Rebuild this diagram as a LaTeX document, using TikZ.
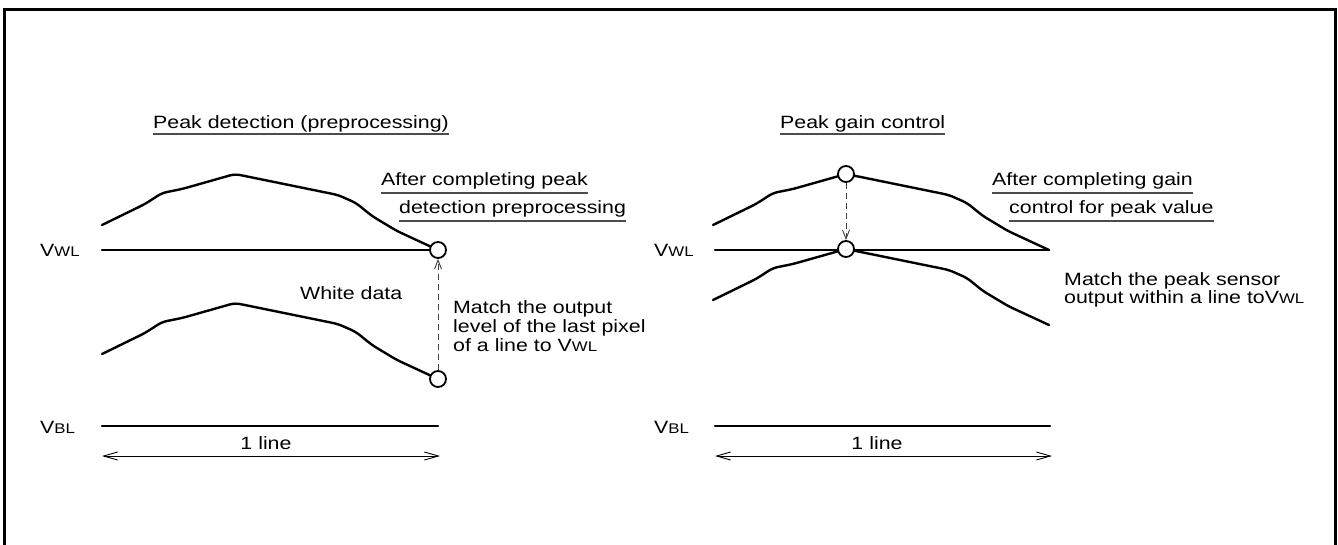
\documentclass[tikz,border=0pt]{standalone}
\usepackage{fontspec}
\setmainfont{Liberation Sans}[FakeStretch=1.2]
\usetikzlibrary{arrows.meta}
\newcommand\wavepath{-- ++(43,-21) -- ++(17,-11) -- ++(20,-4) -- ++(53,-15) -- ++(103,21) -- ++(18,8) -- ++(16,13) -- ++(25,15) -- ++(41,19)}
\newcommand\vsub[1]{V{\fontsize{14}{14}\selectfont #1}}
\begin{document}
\begin{tikzpicture}[x=1pt,y=-1pt,
  every node/.style={font=\fontsize{17.8}{19}\selectfont, inner sep=0pt},
  thick line/.style={line width=2.4pt, line join=round, line cap=round},
  wave/.style={thick line, rounded corners=5pt},
  frame/.style={line width=3pt},
  dot/.style={circle, draw, fill=white, line width=1.8pt, minimum size=16pt},
  dasharrow/.style={line width=0.9pt, dash pattern=on 6pt off 4pt, draw=black!75, -{Straight Barb[length=9pt,width=7pt,line width=0.9pt]}},
  spanarrow/.style={line width=0.9pt, {Straight Barb[length=14pt,width=8pt,line width=0.9pt]}-{Straight Barb[length=14pt,width=8pt,line width=0.9pt]}},
  uline/.style={line width=1.3pt, draw=black!70},
  lbl/.style={anchor=base west}
]
\useasboundingbox (0,0) rectangle (1338,544);
\draw[frame] (4,560) -- (4,9) -- (1335,9) -- (1335,560);

% ---------------- left panel ----------------
\node[lbl] (tl) at (153,128) {Peak detection (preprocessing)};
\draw[uline] ([yshift=-6pt]tl.base west) -- ([yshift=-6pt]tl.base east);

\node[lbl] (al1) at (381,185) {After completing peak};
\draw[uline] ([yshift=-8pt]al1.base west) -- ([yshift=-8pt]al1.base east);
\node[lbl] (al2) at (399,213) {detection preprocessing};
\draw[uline] ([yshift=-8pt]al2.base west) -- ([yshift=-8pt]al2.base east);

\node[lbl] (vwl1) at (40,256) {\vsub{WL}};
\draw[wave] (102,225) \wavepath;
\node[dot] (c1) at (438,250) {};
\draw[thick line] (102,250) -- (c1);

\node[lbl] (wd) at (300,299) {White data};
\draw[wave] (102,354) \wavepath;
\node[dot] (c2) at (438,379) {};
\draw[dasharrow] (c2) -- (c1);

\node[lbl] (m1) at (453,313) {Match the output};
\node[lbl] (m2) at (453,332) {level of the last pixel};
\node[lbl] (m3) at (453,351) {of a line to \vsub{WL}};

\node[lbl] (vbl1) at (40,433) {\vsub{BL}};
\coordinate (b1s) at (102,426);
\coordinate (b1e) at (438,426);
\draw[thick line] (b1s) -- (b1e);
\node (ll1) at (266,443) {1 line};
\coordinate (s1s) at (102,456);
\coordinate (s1e) at (440,456);
\draw[spanarrow] (s1s) -- (s1e);

% ---------------- right panel ----------------
\node[lbl] (tr) at (780,128) {Peak gain control};
\draw[uline] ([yshift=-6pt]tr.base west) -- ([yshift=-6pt]tr.base east);

\node[lbl] (ar1) at (992,185) {After completing gain};
\draw[uline] ([yshift=-8pt]ar1.base west) -- ([yshift=-8pt]ar1.base east);
\node[lbl] (ar2) at (1009,213) {control for peak value};
\draw[uline] ([yshift=-8pt]ar2.base west) -- ([yshift=-8pt]ar2.base east);

\node[lbl] (vwl2) at (654,256) {\vsub{WL}};
\draw[wave] (713,225) \wavepath;
\draw[thick line] (715,250) -- (1049,250);
\draw[wave] (713,300) \wavepath;
\node[dot] (c3) at (846,174) {};
\node[dot] (c4) at (846,249) {};
\draw[dasharrow] (c3) -- (c4);

\node[lbl] (mr1) at (1064,285) {Match the peak sensor};
\node[lbl] (mr2) at (1064,303) {output within a line to\vsub{WL}};

\node[lbl] (vbl2) at (654,433) {\vsub{BL}};
\coordinate (b2s) at (715,426);
\coordinate (b2e) at (1050,426);
\draw[thick line] (b2s) -- (b2e);
\node (ll2) at (877,443) {1 line};
\coordinate (s2s) at (715,456);
\coordinate (s2e) at (1052,456);
\draw[spanarrow] (s2s) -- (s2e);
\end{tikzpicture}
\end{document}
